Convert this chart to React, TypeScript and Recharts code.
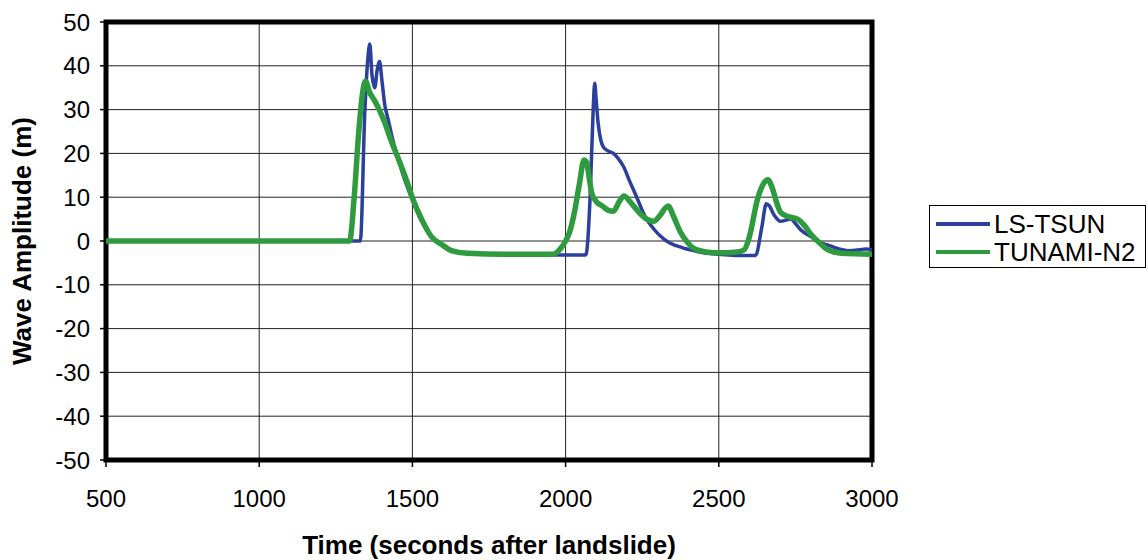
import { LineChart, Line, XAxis, YAxis, CartesianGrid, Legend, ReferenceArea } from 'recharts';

// LS-TSUN (blue)
const lsTime = [500, 1320, 1330, 1345, 1355, 1361, 1368, 1377, 1385, 1393, 1400, 1410, 1420, 1440, 1453, 1470, 1502, 1530, 1562, 1600, 1627, 1680, 1750, 1900, 2066, 2080, 2090, 2095, 2100, 2106, 2115, 2123, 2140, 2156, 2170, 2189, 2210, 2232, 2260, 2287, 2320, 2342, 2380, 2418, 2460, 2500, 2560, 2620, 2640, 2655, 2665, 2680, 2702, 2720, 2735, 2750, 2768, 2800, 2834, 2860, 2878, 2920, 2960, 2980, 3000];
const lsAmp = [0, 0, 0, 30, 42, 45, 38, 35, 39, 41, 37, 31, 28, 22, 19, 15, 9, 4.5, 1, -1, -2.2, -2.8, -3, -3.2, -3.2, 10, 30, 36, 32, 27, 23, 21.5, 20.5, 20, 19, 17, 13.5, 10, 5.5, 2.8, 0.5, -0.5, -1.5, -2.2, -2.8, -3, -3.3, -3.3, 3, 8.5, 8, 6, 4.5, 4.8, 5, 4, 2.5, 1, -0.5, -1, -1.5, -2.2, -2, -1.8, -2];

// TUNAMI-N2 (green)
const tnTime = [500, 1295, 1310, 1325, 1340, 1347, 1360, 1377, 1395, 1410, 1430, 1453, 1480, 1502, 1530, 1562, 1600, 1627, 1680, 1800, 1959, 1980, 2000, 2013, 2030, 2045, 2060, 2068, 2078, 2085, 2100, 2120, 2140, 2156, 2175, 2191, 2210, 2240, 2265, 2287, 2310, 2325, 2336, 2350, 2375, 2400, 2418, 2460, 2500, 2560, 2583, 2600, 2626, 2645, 2660, 2675, 2690, 2702, 2730, 2757, 2780, 2801, 2830, 2856, 2900, 3000];
const tnAmp = [0, 0, 10, 25, 35, 36.5, 34, 32, 29.5, 27, 23, 19, 14, 9.5, 5, 1, -1, -2.2, -2.8, -3, -3, -2, 0, 2, 7, 13, 18.5, 18, 14, 11, 9, 8, 7, 6.8, 9, 10.3, 9, 6.5, 5, 4.5, 6, 7.5, 8, 6, 2, -0.5, -1.7, -2.5, -2.7, -2.5, -2, 1, 9.5, 13, 14, 12, 8.5, 6.5, 5.5, 5, 3.5, 1.5, -0.5, -2, -2.8, -3];

const xTicks = [500, 1000, 1500, 2000, 2500, 3000];
const yTicks = [-50, -40, -30, -20, -10, 0, 10, 20, 30, 40, 50];

const lsData = lsTime.map((t, i) => ({ t, v: lsAmp[i] }));
const tnData = tnTime.map((t, i) => ({ t, v: tnAmp[i] }));

const BLUE = '#2b3f9c';
const GREEN = '#2e9b3e';
const FONT = '"Liberation Sans", Arial, sans-serif';

const renderLegend = (props: any) => (
  <div style={{ border: '1px solid #000', background: '#fff', width: 217, height: 63, boxSizing: 'border-box', fontFamily: FONT, fontSize: 26, paddingTop: 4 }}>
    {props.payload.map((p: any) => (
      <div key={p.value} style={{ display: 'flex', alignItems: 'center', height: 28, paddingLeft: 6 }}>
        <div style={{ width: 54, height: 4, background: p.color, marginRight: 4 }} />
        <span>{p.value}</span>
      </div>
    ))}
  </div>
);

export default function App() {
  return (
    <div style={{ position: 'absolute', left: 0, top: 0, background: '#fff' }}>
      <LineChart width={1148} height={560} margin={{ top: 22, right: 59, left: 0, bottom: 0 }} style={{ fontFamily: FONT }}>
        <CartesianGrid stroke="#222" strokeWidth={1} />
        <XAxis
          type="number"
          dataKey="t"
          domain={[500, 3000]}
          ticks={xTicks}
          height={100}
          axisLine={false}
          tickSize={7}
          tickMargin={23}
          tickLine={{ stroke: '#000', strokeWidth: 1.5 }}
          tick={{ fill: '#000', fontSize: 24 }}
          label={{ value: 'Time (seconds after landslide)', position: 'insideBottom', offset: 6, fill: '#000', fontSize: 26, fontWeight: 'bold' }}
        />
        <YAxis
          type="number"
          domain={[-50, 50]}
          ticks={yTicks}
          width={106}
          axisLine={false}
          tickSize={6}
          tickMargin={10}
          tickLine={{ stroke: '#000', strokeWidth: 1.5 }}
          tick={{ fill: '#000', fontSize: 24 }}
          label={{ value: 'Wave Amplitude (m)', angle: -90, position: 'insideLeft', offset: 22, fill: '#000', fontSize: 26, fontWeight: 'bold', style: { textAnchor: 'middle' } }}
        />
        <ReferenceArea x1={500} x2={3000} y1={-50} y2={50} fill="none" stroke="#000" strokeWidth={5} ifOverflow="visible" />
        <Line data={lsData} dataKey="v" name="LS-TSUN" type="monotone" stroke={BLUE} strokeWidth={3.5} dot={false} isAnimationActive={false} />
        <Line data={tnData} dataKey="v" name="TUNAMI-N2" type="monotone" stroke={GREEN} strokeWidth={5.5} dot={false} isAnimationActive={false} />
        <Legend
          layout="vertical"
          align="right"
          verticalAlign="middle"
          content={renderLegend}
          wrapperStyle={{ position: 'absolute', left: 929, top: 205, width: 217, height: 63 }}
        />
      </LineChart>
    </div>
  );
}
